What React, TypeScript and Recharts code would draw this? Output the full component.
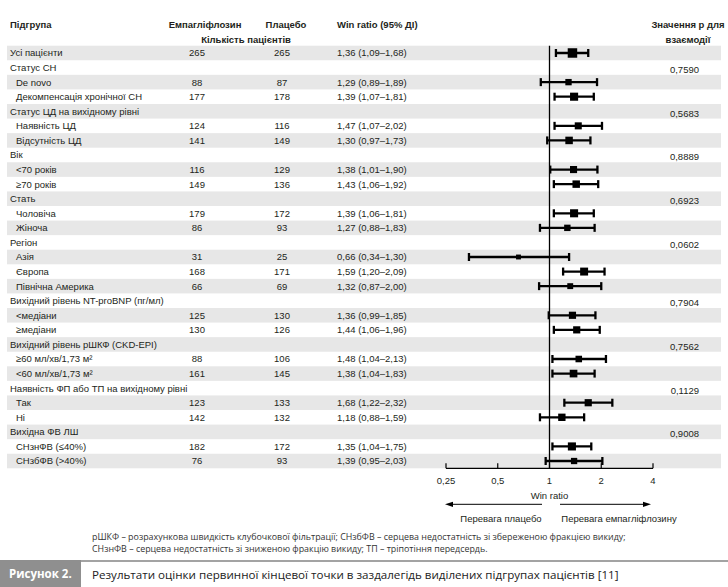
import { ScatterChart, Scatter, XAxis, YAxis, ZAxis, ErrorBar, ReferenceLine } from "recharts";

const rowLabels = [
  "Усі пацієнти",
  "Статус СН",
  "De novo",
  "Декомпенсація хронічної СН",
  "Статус ЦД на вихідному рівні",
  "Наявність ЦД",
  "Відсутність ЦД",
  "Вік",
  "<70 років",
  "≥70 років",
  "Стать",
  "Чоловіча",
  "Жіноча",
  "Регіон",
  "Азія",
  "Європа",
  "Північна Америка",
  "Вихідний рівень NT-proBNP (пг/мл)",
  "<медіани",
  "≥медіани",
  "Вихідний рівень рШКФ (CKD-EPI)",
  "≥60 мл/хв/1,73 м²",
  "<60 мл/хв/1,73 м²",
  "Наявність ФП або ТП на вихідному рівні",
  "Так",
  "Ні",
  "Вихідна ФВ ЛШ",
  "СНзнФВ (≤40%)",
  "СНзбФВ (>40%)",
];

const empaN = [265, null, 88, 177, null, 124, 141, null, 116, 149, null, 179, 86, null, 31, 168, 66, null, 125, 130, null, 88, 161, null, 123, 142, null, 182, 76];
const placeboN = [265, null, 87, 178, null, 116, 149, null, 129, 136, null, 172, 93, null, 25, 171, 69, null, 130, 126, null, 106, 145, null, 133, 132, null, 172, 93];
const winRatio = [1.36, null, 1.29, 1.39, null, 1.47, 1.30, null, 1.38, 1.43, null, 1.39, 1.27, null, 0.66, 1.59, 1.32, null, 1.36, 1.44, null, 1.48, 1.38, null, 1.68, 1.18, null, 1.35, 1.39];
const ciLow = [1.09, null, 0.89, 1.07, null, 1.07, 0.97, null, 1.01, 1.06, null, 1.06, 0.88, null, 0.34, 1.2, 0.87, null, 0.99, 1.06, null, 1.04, 1.04, null, 1.22, 0.88, null, 1.04, 0.95];
const ciHigh = [1.68, null, 1.89, 1.81, null, 2.02, 1.73, null, 1.9, 1.92, null, 1.81, 1.83, null, 1.3, 2.09, 2.0, null, 1.85, 1.96, null, 2.13, 1.83, null, 2.32, 1.59, null, 1.75, 2.03];
const pValues = [null, "0,7590", null, null, "0,5683", null, null, "0,8889", null, null, "0,6923", null, null, "0,0602", null, null, null, "0,7904", null, null, "0,7562", null, null, "0,1129", null, null, "0,9008", null, null];

const xTicks = [0.25, 0.5, 1, 2, 4];
const rowTicks = rowLabels.map((_, i) => i);

const CHART_W = 728;
const CHART_H = 530;
const PLOT_TOP = 45.7;
const PLOT_BOTTOM = 468.3;
const ROW_H = (PLOT_BOTTOM - PLOT_TOP) / rowLabels.length;
const FONT = "'Liberation Sans', Arial, sans-serif";
const INK = "#231f20";

const fmt = (v: number) => v.toFixed(2).replace(".", ",");

const points = rowLabels
  .map((_, i) => ({
    row: i,
    wr: winRatio[i],
    err: winRatio[i] == null ? null : [winRatio[i]! - ciLow[i]!, ciHigh[i]! - winRatio[i]!],
    n: (empaN[i] ?? 0) + (placeboN[i] ?? 0),
  }))
  .filter((p) => p.wr != null);

// shaded stripes on every other row, positioned by the row scale
const stripes = rowTicks.filter((i) => i % 2 === 0).map((i) => ({ row: i, wr: 1, n: 0 }));

function Stripe(props: any) {
  const { cy } = props;
  return <rect x={7} y={cy - ROW_H / 2} width={714} height={ROW_H} fill="#e7e7e7" />;
}

function RowTick(props: any) {
  const { y, payload } = props;
  const i = payload.value as number;
  const hasData = winRatio[i] != null;
  const indent = hasData && i > 0;
  const ty = y + 3.4;
  return (
    <g fontFamily={FONT} fontSize={9.5} fill={INK}>
      <text x={indent ? 16 : 10} y={ty}>{rowLabels[i]}</text>
      {hasData && (
        <>
          <text x={197} y={ty} textAnchor="middle">{empaN[i]}</text>
          <text x={282} y={ty} textAnchor="middle">{placeboN[i]}</text>
          <text x={337} y={ty}>{`${fmt(winRatio[i]!)} (${fmt(ciLow[i]!)}–${fmt(ciHigh[i]!)})`}</text>
        </>
      )}
      {pValues[i] && (
        <text x={699} y={ty + 2} textAnchor="end">{pValues[i]}</text>
      )}
    </g>
  );
}

function WrTick(props: any) {
  const { x, y, payload } = props;
  return (
    <g>
      <line x1={x} x2={x} y1={y} y2={y - 5} stroke="#000" strokeWidth={1.2} />
      <text x={x} y={y + 15.5} textAnchor="middle" fontFamily={FONT} fontSize={9.5} fill={INK}>
        {String(payload.value).replace(".", ",")}
      </text>
    </g>
  );
}

function WrLabel(props: any) {
  const { x, y, width } = props.viewBox;
  const cx = x + width / 2;
  const ay = y + 36;
  return (
    <g fontFamily={FONT} fontSize={9.5} fill={INK}>
      <text x={cx} y={y + 31} textAnchor="middle">Win ratio</text>
      <line x1={x + 4} x2={x + 96} y1={ay} y2={ay} stroke="#000" strokeWidth={1} />
      <polygon points={`${x - 1},${ay} ${x + 7},${ay - 2.6} ${x + 7},${ay + 2.6}`} fill="#000" />
      <line x1={x + 114} x2={x + 200} y1={ay} y2={ay} stroke="#000" strokeWidth={1} />
      <polygon points={`${x + 205},${ay} ${x + 197},${ay - 2.6} ${x + 197},${ay + 2.6}`} fill="#000" />
      <text x={x + 55} y={y + 54} textAnchor="middle">Перевага плацебо</text>
      <text x={x + 173} y={y + 54} textAnchor="middle">Перевага емпагліфлозину</text>
    </g>
  );
}

export default function App() {
  return (
    <div style={{ position: "absolute", left: 0, top: 0, width: 728, height: 587, background: "#fff" }}>
      <svg width={728} height={60} style={{ position: "absolute", left: 0, top: 0 }}>
        <g fontFamily={FONT} fontSize={9.5} fontWeight="bold" fill={INK}>
          <text x={10} y={27.5}>Підгрупа</text>
          <text x={205} y={27.5} textAnchor="middle">Емпагліфлозин</text>
          <text x={286} y={27.5} textAnchor="middle">Плацебо</text>
          <text x={246} y={42.5} textAnchor="middle">Кількість пацієнтів</text>
          <text x={337} y={27.5}>Win ratio (95% ДІ)</text>
          <text x={688} y={27.5} textAnchor="middle">Значення р для</text>
          <text x={688} y={43} textAnchor="middle">взаємодії</text>
        </g>
      </svg>
      <div style={{ position: "absolute", left: 0, top: 0 }}>
        <ScatterChart
          width={CHART_W}
          height={CHART_H}
          margin={{ top: PLOT_TOP, right: 75, bottom: CHART_H - PLOT_BOTTOM - 60, left: 0 }}
        >
          <YAxis
            type="number"
            dataKey="row"
            domain={[-0.5, rowLabels.length - 0.5]}
            ticks={rowTicks}
            interval={0}
            reversed
            width={446}
            axisLine={false}
            tickLine={false}
            tick={<RowTick />}
          />
          <XAxis
            type="number"
            dataKey="wr"
            scale="log"
            domain={[0.25, 4]}
            ticks={xTicks}
            interval={0}
            height={60}
            tickSize={0}
            tickMargin={0}
            tickLine={false}
            axisLine={{ stroke: "#000", strokeWidth: 1.2 }}
            tick={<WrTick />}
            label={{ content: (p: any) => <WrLabel {...p} /> }}
          />
          <ZAxis type="number" dataKey="n" domain={[56, 530]} range={[16, 90]} />
          <Scatter data={stripes} shape={<Stripe />} isAnimationActive={false} zIndex={-200} />
          <ReferenceLine x={1} stroke="#000" strokeWidth={1.3} zIndex={700} />
          <Scatter data={points} shape="square" fill="#000" isAnimationActive={false} zIndex={800}>
            <ErrorBar dataKey="err" direction="x" width={4} stroke="#000" strokeWidth={2.3} zIndex={750} />
          </Scatter>
        </ScatterChart>
      </div>
      <div
        style={{
          position: "absolute",
          left: 92,
          top: 531,
          fontFamily: "'Open Sans', sans-serif",
          fontSize: 8.9,
          lineHeight: "11.5px",
          color: "#333",
          whiteSpace: "nowrap",
        }}
      >
        <div>рШКФ – розрахункова швидкість клубочкової фільтрації; СНзбФВ – серцева недостатність зі збереженою фракцією викиду;</div>
        <div>СНзнФВ – серцева недостатність зі зниженою фракцію викиду; ТП – тріпотіння передсердь.</div>
      </div>
      <div style={{ position: "absolute", left: 0, top: 560, width: 728, height: 2, background: "#a3a3a3" }} />
      <div
        style={{
          position: "absolute",
          left: 0,
          top: 560,
          width: 81,
          height: 27,
          background: "#8f8f8f",
          color: "#fff",
          fontFamily: "'Open Sans', sans-serif",
          fontWeight: "bold",
          fontSize: 11.5,
          lineHeight: "27px",
          paddingLeft: 9,
          boxSizing: "border-box",
        }}
      >
        Рисунок 2.
      </div>
      <div
        style={{
          position: "absolute",
          left: 92,
          top: 562,
          fontFamily: "'Open Sans', sans-serif",
          fontSize: 11.6,
          lineHeight: "25px",
          color: "#222",
          whiteSpace: "nowrap",
        }}
      >
        Результати оцінки первинної кінцевої точки в заздалегідь виділених підгрупах пацієнтів [11]
      </div>
    </div>
  );
}
